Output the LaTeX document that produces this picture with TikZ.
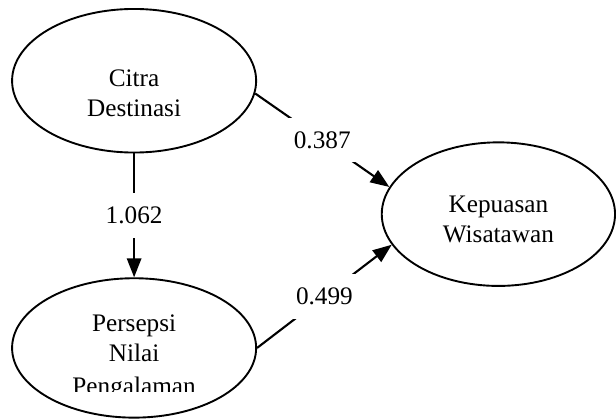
\documentclass[tikz,border=0pt]{standalone}
\usepackage{fontspec}
\setmainfont{Liberation Serif}
\usepackage{trimclip}
\usetikzlibrary{arrows.meta, positioning, calc, shapes.geometric}

\newcommand{\lift}[1]{\rule{0pt}{#1}}

\begin{document}
\begin{tikzpicture}[
      latent/.style={draw, ellipse, line width=0.9pt, minimum width=4.08cm,
                     minimum height=2.4cm, align=center, inner sep=0pt,
                     font=\fontsize{12}{14.2}\selectfont},
      effect/.style={draw, line width=1pt,
                     -{Triangle[length=9pt, width=6.8pt]}},
      coef/.style={fill=white, inner sep=6.5pt,
                   font=\fontsize{12}{14.2}\selectfont}
    ]
    \node[latent] (citra) {\lift{20pt}Citra\\Destinasi};
    \node[latent, minimum height=2.33cm, below=2.07cm of citra] (persepsi)
      {\lift{13.1pt}Persepsi\\Nilai\\\clipbox{0pt 3.8pt 0pt 0pt}{Pengalaman}};
    \node[latent, minimum width=3.9cm] (kepuasan) at ($(citra)+(6.09,-2.23)$)
      {\lift{13.1pt}Kepuasan\\Wisatawan};
    \useasboundingbox ($(citra.center)+(-2.242,1.35)$) rectangle ++(10.27,-6.97);
    % paths with coefficients
    \draw[effect] (citra.south) -- node[coef] (c1) {1.062} (persepsi.north);
    \draw[effect] (citra.-6) -- node[coef] (c2) {0.387} (kepuasan.166);
    \draw[effect] (persepsi.east) -- node[coef] (c3) {0.499} (kepuasan.196);
  \end{tikzpicture}
\end{document}
